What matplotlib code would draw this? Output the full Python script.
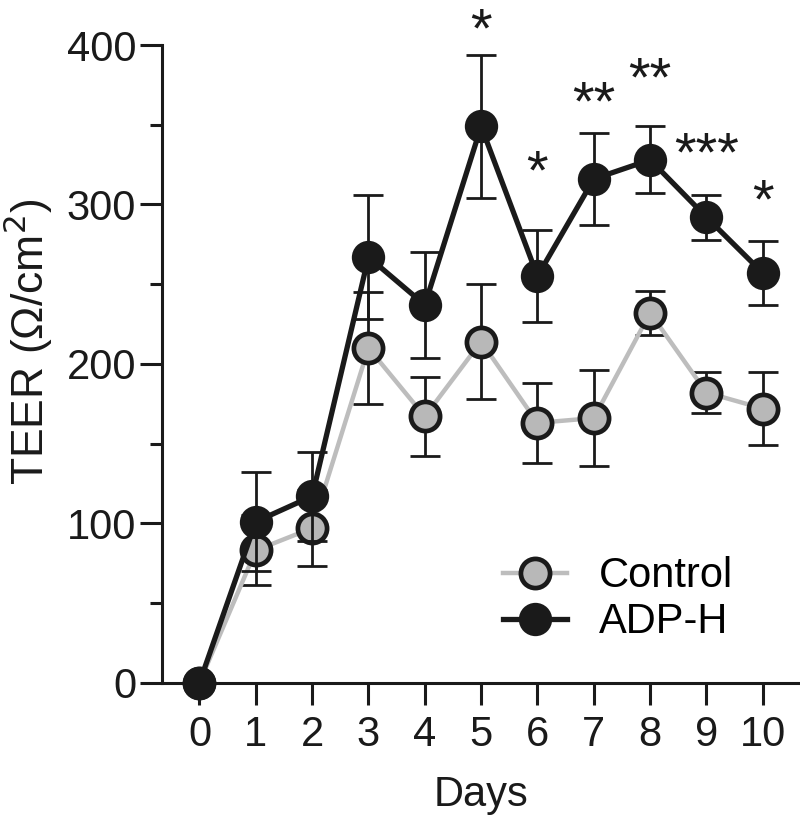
import matplotlib
matplotlib.use("Agg")
import matplotlib.pyplot as plt
from matplotlib.ticker import MultipleLocator
from matplotlib.transforms import ScaledTranslation
from matplotlib.lines import Line2D

days = [0, 1, 2, 3, 4, 5, 6, 7, 8, 9, 10]
control_mean = [0, 83, 97, 210, 167, 214, 163, 166, 232, 182, 172]
control_err = [0, 22, 24, 35, 25, 36, 25, 30, 14, 13, 23]
adph_mean = [0, 101, 117, 267, 237, 349, 255, 316, 328, 292, 257]
adph_err = [0, 31, 28, 39, 33, 45, 29, 29, 21, 14, 20]
sig_days = [5, 6, 7, 8, 9, 10]
sig_labels = ["*", "*", "**", "**", "***", "*"]
sig_y = [414, 325, 368, 383, 336, 307]

plt.rcParams['font.family'] = ['Liberation Sans', 'DejaVu Sans']
INK = '#1a1a1a'

fig = plt.figure(figsize=(8.0, 8.19), dpi=100)
ax = fig.add_axes([0.2025, 0.1664, 0.7975, 0.7786])

# control
ax.errorbar(days, control_mean, yerr=control_err, fmt='none', ecolor=INK,
            elinewidth=2.0, capsize=11, capthick=2.0, zorder=2, clip_on=False)
ax.plot(days, control_mean, '-', color='#bdbdbd', lw=3.2, zorder=3, clip_on=False)
ax.plot(days, control_mean, 'o', ms=21, mfc='#b8b8b8',
        mec=INK, mew=3.4, zorder=4, clip_on=False)
# ADP-H
ax.errorbar(days, adph_mean, yerr=adph_err, fmt='none', ecolor=INK,
            elinewidth=2.0, capsize=11, capthick=2.0, zorder=5, clip_on=False)
ax.plot(days, adph_mean, '-', color=INK, lw=3.8, zorder=6, clip_on=False)
ax.plot(days, adph_mean, 'o', ms=24, mfc=INK, mec=INK, mew=0,
        zorder=7, clip_on=False)

star_tr = ax.transData + ScaledTranslation(0, -7 / 72, fig.dpi_scale_trans)
for d, lab, yv in zip(sig_days, sig_labels, sig_y):
    ax.text(d, yv, lab, ha='center', va='center', fontsize=40, color=INK,
            transform=star_tr, clip_on=False)

ax.set_xlim(-0.665, 10.66)
ax.set_ylim(0, 400)
ax.set_xticks(days)
ax.yaxis.set_major_locator(MultipleLocator(100))
ax.yaxis.set_minor_locator(MultipleLocator(50))
for s in ['top', 'right']:
    ax.spines[s].set_visible(False)
for s in ['left', 'bottom']:
    ax.spines[s].set_linewidth(2.2)
    ax.spines[s].set_color(INK)
ax.tick_params(axis='both', which='major', length=15.5, width=2.2, colors=INK,
               labelsize=30)
ax.tick_params(axis='x', which='major', pad=8)
ax.tick_params(axis='y', which='major', pad=3)
ax.tick_params(axis='y', which='minor', length=8.5, width=2.2, colors=INK)
ax.set_xlabel('Days', fontsize=30, color=INK, labelpad=14)
ax.set_ylabel('TEER (Ω/cm$^2$)', fontsize=32, color=INK)
ax.yaxis.set_label_coords(-0.168, 0.535)

h1 = Line2D([], [], color='#bdbdbd', lw=3.2, marker='o', ms=21, mfc='#b8b8b8',
            mec=INK, mew=3.4)
h2 = Line2D([], [], color=INK, lw=3.8, marker='o', ms=24, mfc=INK, mew=0)
ax.legend([h1, h2], ['Control', 'ADP-H'], loc='lower left',
          bbox_to_anchor=(0.509, 0.037), frameon=False, fontsize=30,
          handlelength=1.53, handletextpad=0.77, labelspacing=0.15, borderaxespad=0)

fig.savefig('out.png', dpi=100)
